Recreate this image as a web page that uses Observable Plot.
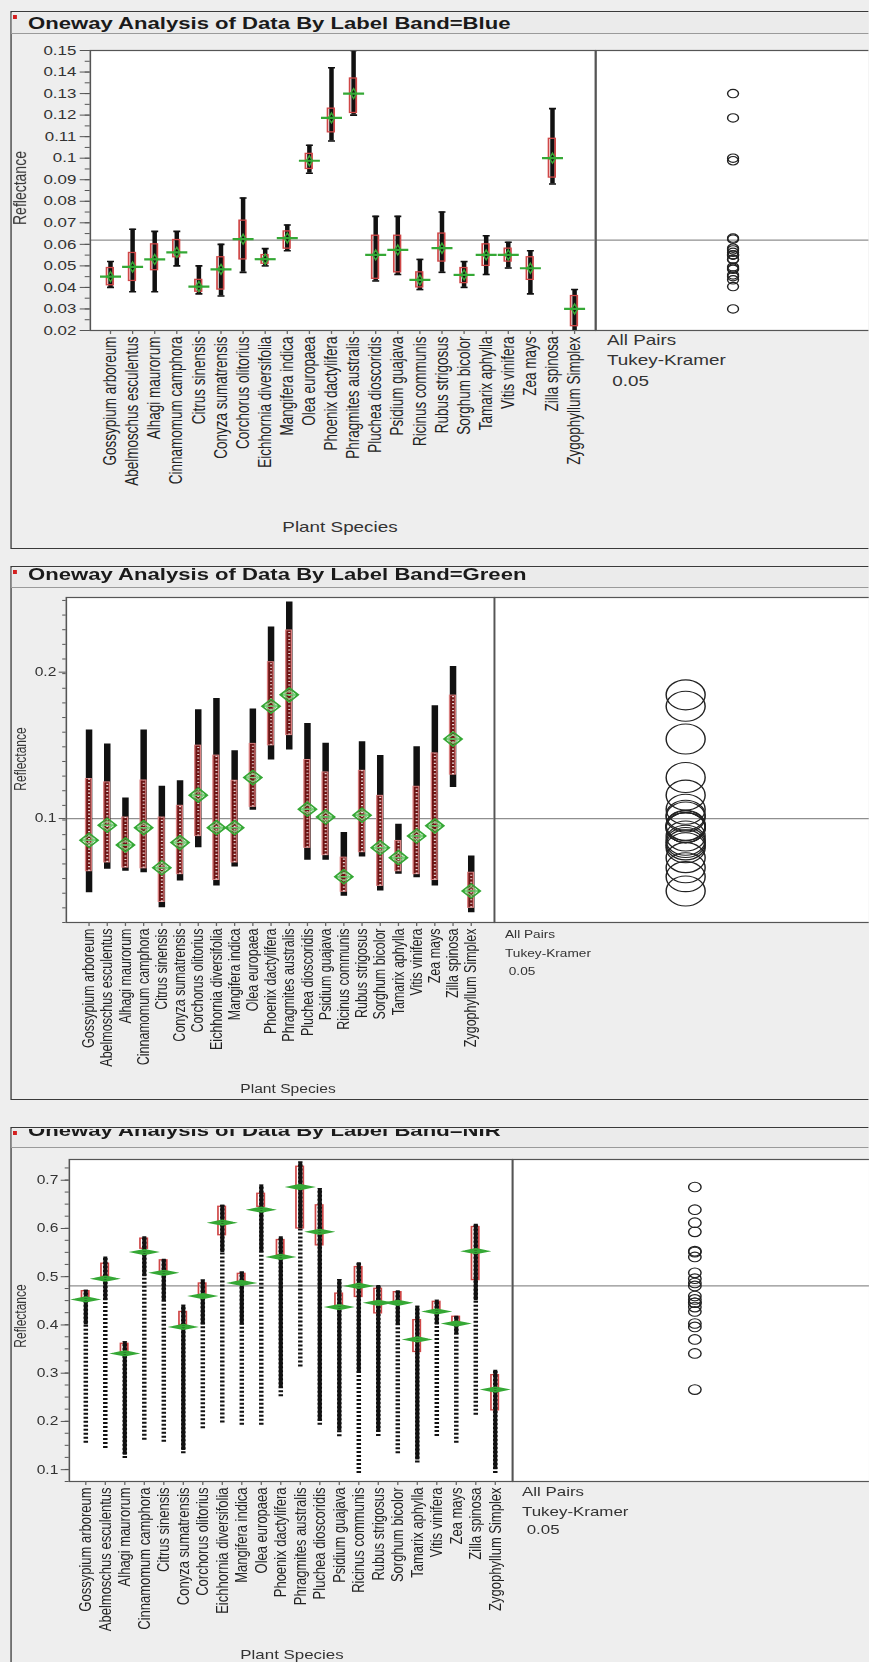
<!DOCTYPE html>
<html><head><meta charset="utf-8">
<script src="https://cdn.jsdelivr.net/npm/d3@7"></script>
<script src="https://cdn.jsdelivr.net/npm/@observablehq/plot@0.6"></script>
<style>
html,body{margin:0;padding:0;overflow:hidden;background:#eeeeee;}
#page{position:relative;width:668.46px;height:1662px;transform:scaleX(1.3);transform-origin:0 0;overflow:hidden;font-family:"Liberation Sans",Arial,sans-serif;color:#222;}
</style></head>
<body><div id="page"></div>
<script>
// ---------------- data ----------------
const species = ["Gossypium arboreum","Abelmoschus esculentus","Alhagi maurorum","Cinnamomum camphora","Citrus sinensis","Conyza sumatrensis","Corchorus olitorius","Eichhornia diversifolia","Mangifera indica","Olea europaea","Phoenix dactylifera","Phragmites australis","Pluchea dioscoridis","Psidium guajava","Ricinus communis","Rubus strigosus","Sorghum bicolor","Tamarix aphylla","Vitis vinifera","Zea mays","Zilla spinosa","Zygophyllum Simplex"];

const blueMax  = [0.052,0.067,0.066,0.066,0.050,0.060,0.0815,0.058,0.069,0.106,0.142,0.150,0.073,0.073,0.053,0.075,0.052,0.064,0.061,0.057,0.123,0.039];
const blueQ3   = [0.049,0.056,0.060,0.062,0.0435,0.054,0.071,0.055,0.066,0.102,0.123,0.137,0.064,0.064,0.047,0.065,0.049,0.060,0.058,0.054,0.109,0.036];
const blueQ1   = [0.041,0.043,0.048,0.054,0.038,0.039,0.053,0.051,0.058,0.095,0.112,0.121,0.044,0.047,0.040,0.052,0.042,0.050,0.052,0.0435,0.091,0.022];
const blueMin  = [0.040,0.038,0.038,0.050,0.037,0.036,0.047,0.050,0.057,0.093,0.108,0.120,0.043,0.046,0.039,0.047,0.040,0.046,0.049,0.037,0.088,0.019];
const blueMean = [0.045,0.0495,0.053,0.0563,0.0404,0.0484,0.0624,0.0531,0.0629,0.0988,0.1187,0.130,0.0551,0.0574,0.0435,0.0582,0.0458,0.0551,0.0551,0.0489,0.100,0.030];
const blueGrand = 0.062;
const blueTicks = [0.02,0.03,0.04,0.05,0.06,0.07,0.08,0.09,0.1,0.11,0.12,0.13,0.14,0.15];

const greenMax  = [0.1605,0.151,0.114,0.1605,0.122,0.1258,0.1744,0.182,0.1463,0.1749,0.2308,0.248,0.165,0.1514,0.0904,0.1525,0.143,0.0961,0.149,0.177,0.2039,0.0744];
const greenQ3   = [0.127,0.1247,0.1007,0.126,0.1007,0.1087,0.1498,0.143,0.1258,0.151,0.2068,0.2285,0.14,0.1315,0.0733,0.1326,0.1155,0.0847,0.1217,0.1445,0.184,0.063];
const greenQ1   = [0.064,0.070,0.0665,0.066,0.043,0.062,0.088,0.058,0.070,0.108,0.150,0.157,0.080,0.075,0.050,0.077,0.054,0.064,0.062,0.058,0.130,0.039];
const greenMin  = [0.0493,0.0653,0.064,0.063,0.039,0.0573,0.080,0.0539,0.0669,0.1057,0.14,0.1468,0.0715,0.0715,0.047,0.0737,0.0505,0.0619,0.0596,0.0539,0.1212,0.0356];
const greenMean = [0.0852,0.0954,0.082,0.0938,0.0664,0.0836,0.116,0.0938,0.0938,0.128,0.1767,0.1845,0.1064,0.1011,0.0603,0.1023,0.0801,0.0733,0.0881,0.095,0.1543,0.0505];
const greenGrand = 0.1;
const greenTicks = [0.1,0.2];

const nirMax   = [0.472,0.541,0.365,0.583,0.536,0.441,0.493,0.648,0.51,0.69,0.583,0.738,0.683,0.494,0.529,0.482,0.471,0.439,0.451,0.418,0.609,0.306];
const nirQ3    = [0.470,0.527,0.361,0.579,0.534,0.427,0.486,0.645,0.506,0.672,0.576,0.728,0.648,0.465,0.52,0.475,0.468,0.41,0.448,0.417,0.603,0.296];
const nirQ1    = [0.451,0.50,0.341,0.558,0.51,0.40,0.462,0.586,0.486,0.645,0.545,0.60,0.565,0.437,0.458,0.424,0.444,0.344,0.427,0.401,0.493,0.223];
const nirMin   = [0.155,0.144,0.123,0.161,0.157,0.133,0.185,0.197,0.192,0.192,0.251,0.313,0.192,0.168,0.092,0.169,0.133,0.114,0.169,0.155,0.213,0.092];
const nirMean  = [0.453,0.496,0.341,0.551,0.508,0.396,0.46,0.612,0.487,0.639,0.541,0.686,0.593,0.437,0.481,0.446,0.446,0.37,0.428,0.403,0.553,0.266];
const nirDense = [0.40,0.45,0.13,0.50,0.45,0.14,0.40,0.55,0.40,0.55,0.27,0.60,0.20,0.18,0.30,0.18,0.40,0.12,0.40,0.38,0.45,0.10];
const nirGrand = 0.481;
const nirTicks = [0.1,0.2,0.3,0.4,0.5,0.6,0.7];

const testLines = ["All Pairs","Tukey-Kramer"," 0.05"];
const xTitle = "Plant Species";
const yTitle = "Reflectance";

// ---------------- helpers ----------------
const S = 1.3;              // horizontal stretch of the whole picture
const U = v => v / S;       // full-width px -> unstretched px
const page = document.getElementById("page");
const fmt = d3.format("~g");

function div(x, y, w, h, css, parent) {
  const d = document.createElement("div");
  d.style.cssText = `position:absolute;left:${U(x)}px;top:${y}px;width:${U(w)}px;height:${h}px;${css || ""}`;
  (parent || page).appendChild(d);
  return d;
}
function label(str, x, base, size, css, anchor, parent, lh) {
  const d = document.createElement("div");
  d.textContent = str;
  const L = lh || 1;
  const top = base - (0.905 - (1.117 - L) / 2) * size;
  d.style.cssText = `position:absolute;left:${U(x)}px;top:${top}px;font-size:${size}px;line-height:${L};white-space:pre;${css || ""}`;
  if (anchor === "middle") d.style.transform = "translateX(-50%)";
  (parent || page).appendChild(d);
  return d;
}
function ylabel(str, x, y, size) {
  const d = document.createElement("div");
  d.textContent = str;
  d.style.cssText = `position:absolute;left:${U(x)}px;top:${y}px;font-size:${size}px;line-height:1;white-space:nowrap;transform:translate(-50%,-50%) rotate(-90deg);color:#333;`;
  page.appendChild(d);
}
const hline = hw => ({draw(ctx) { ctx.moveTo(-hw, 0); ctx.lineTo(hw, 0); }});
const diamond = (hw, hh) => ({draw(ctx) {
  ctx.moveTo(0, -hh); ctx.lineTo(hw, 0); ctx.lineTo(0, hh); ctx.lineTo(-hw, 0); ctx.closePath();
  ctx.moveTo(-hw, 0); ctx.lineTo(hw, 0);
}});
function rowsOf(mn, q1, q3, mx, mean, dense) {
  return species.map((s, i) => ({species: s, min: mn[i], q1: q1[i], q3: q3[i], max: mx[i], mean: mean[i], dense: dense ? dense[i] : null}));
}

const RED = "#cf4747", GREEN = "#35a835";

function panelMarks(kind, rows, bw) {
  if (kind === "blue") {
    return [
      Plot.ruleX(rows, {x: "species", y1: "min", y2: "max", stroke: "#111", strokeWidth: U(4.5), clip: true}),
      Plot.dot(rows, {x: "species", y: "max", symbol: hline(U(3.5)), r: 2, fill: "none", stroke: "#111", strokeWidth: 1.6, clip: true}),
      Plot.dot(rows, {x: "species", y: "min", symbol: hline(U(3.5)), r: 2, fill: "none", stroke: "#111", strokeWidth: 1.6, clip: true}),
      Plot.barY(rows, {x: "species", y1: "q1", y2: "q3", insetLeft: (bw - U(7.5)) / 2, insetRight: (bw - U(7.5)) / 2, fill: "none", stroke: RED, strokeWidth: 1.3, clip: true}),
      Plot.dot(rows, {x: "species", y: "mean", symbol: hline(U(10.5)), r: 2, fill: "none", stroke: GREEN, strokeWidth: 2.2, clip: true}),
      Plot.dot(rows, {x: "species", y: "mean", symbol: diamond(U(3), 5), r: 2, fill: "none", stroke: GREEN, strokeWidth: 1.2, clip: true})
    ];
  }
  if (kind === "green") {
    return [
      Plot.ruleX(rows, {x: "species", y1: "min", y2: "max", stroke: "#111", strokeWidth: U(6.5), clip: true}),
      Plot.barY(rows, {x: "species", y1: "q1", y2: "q3", insetLeft: (bw - U(7)) / 2, insetRight: (bw - U(7)) / 2, fill: "#6e1515", stroke: "#d98080", strokeWidth: 1, clip: true}),
      Plot.ruleX(rows, {x: "species", y1: "q1", y2: "q3", stroke: "white", strokeWidth: U(2), strokeDasharray: "1.2 2.3", strokeOpacity: 0.85, clip: true}),
      Plot.dot(rows, {x: "species", y: "mean", symbol: diamond(U(9), 7), r: 2, fill: "none", stroke: GREEN, strokeWidth: 1.5, clip: true}),
      Plot.dot(rows, {x: "species", y: "mean", symbol: diamond(U(6), 4.5), r: 2, fill: "none", stroke: "#7fcf7f", strokeWidth: 1, clip: true})
    ];
  }
  return [
    Plot.barY(rows, {x: "species", y1: "q1", y2: "q3", insetLeft: (bw - U(8)) / 2, insetRight: (bw - U(8)) / 2, fill: "none", stroke: RED, strokeWidth: 1.3, clip: true}),
    Plot.ruleX(rows, {x: "species", y1: "min", y2: "max", stroke: "#111", strokeWidth: U(4.5), strokeDasharray: "2 2", clip: true}),
    Plot.ruleX(rows, {x: "species", y1: "dense", y2: "max", stroke: "#111", strokeWidth: U(4), clip: true}),
    Plot.dot(rows, {x: "species", y: "mean", symbol: diamond(U(11), 2.2), r: 2, fill: "none", stroke: GREEN, strokeWidth: 1.8, clip: true})
  ];
}

function buildPanel(c) {
  // outer box
  div(10, c.top, 900, c.bottom - c.top, "border:1.6px solid #3a3a3a;box-sizing:border-box;background:#eeeeee;");
  // title bar
  const barTop = c.top + 1.6;
  const bar = div(11.6, barTop, 900, c.barBottom - barTop, "background:#ebebeb;border-bottom:1px solid #9a9a9a;box-sizing:border-box;" + (c.clipTitle ? "overflow:hidden;" : ""));
  label(c.title, 28 - 11.6, c.titleBase - barTop, 17, "font-weight:bold;color:#1a1a1a;", null, bar, 0.8);
  div(12.5 - 11.6, 2, 4, 4, "background:#d42020;", bar);

  const bw = U((c.sep - c.plotLeft) / species.length);
  const mt = 6;
  const svgLeft = 12;
  const mainH = c.labelsBottom - c.plotTop + mt;
  const mainHost = div(svgLeft, c.plotTop - mt, c.sep - svgLeft, mainH, "");
  const minor = d3.range(c.domain[0], c.domain[1] + 1e-9, c.minorStep);
  const main = Plot.plot({
    width: U(c.sep - svgLeft), height: mainH,
    marginLeft: U(c.plotLeft - svgLeft), marginRight: 0, marginTop: mt, marginBottom: c.labelsBottom - c.plotBottom,
    style: {background: "transparent", fontFamily: "Liberation Sans, Arial, sans-serif", overflow: "visible", color: "#222"},
    x: {type: "band", domain: species, padding: 0},
    y: {domain: c.domain},
    marks: [
      Plot.frame({fill: "white"}),
      Plot.ruleY([c.grand], {stroke: "#8f8f8f", strokeWidth: 1.2}),
      ...panelMarks(c.kind, c.rows, bw),
      Plot.frame({stroke: "#555", strokeWidth: 1.2}),
      Plot.axisY({ticks: minor, tickSize: U(c.tickSize * 0.5), tickFormat: () => "", label: null, stroke: "#555"}),
      Plot.axisY({ticks: c.ticks, tickFormat: fmt, tickSize: U(c.tickSize), tickPadding: U(c.tickPad), fontSize: c.tickFont, label: null, fill: "#333", stroke: "#555"}),
      Plot.axisX({tickRotate: -90, tickSize: 4, tickPadding: 2, fontSize: c.xFont, label: null, fill: "#222", stroke: "#666"})
    ]
  });
  mainHost.appendChild(main);

  // comparison circles
  const cmpHost = div(c.sep, c.plotTop, c.cmpRight - c.sep, c.plotBottom - c.plotTop, "");
  const cmp = Plot.plot({
    width: U(c.cmpRight - c.sep), height: c.plotBottom - c.plotTop,
    margin: 0,
    style: {background: "transparent", overflow: "visible"},
    y: {domain: c.domain, axis: null},
    marks: [
      Plot.frame({fill: "white"}),
      Plot.ruleY([c.grand], {stroke: "#8f8f8f", strokeWidth: 1.2}),
      Plot.dot(c.rows, {y: "mean", r: c.circleR, fill: "none", stroke: "#222", strokeWidth: 1.1, clip: true}),
      Plot.frame({stroke: "#555", strokeWidth: 1.2})
    ]
  });
  cmpHost.appendChild(cmp);

  ylabel(yTitle, c.ylab.x, c.ylab.y, c.ylab.size);
  label(xTitle, c.xt.x, c.xt.base, c.xt.size, "color:#333;", "middle");
  label(testLines[0], c.test.x, c.test.base[0], c.test.size, "color:#333;");
  label(testLines[1], c.test.x, c.test.base[1], c.test.size, "color:#333;");
  label(testLines[2], c.test.x, c.test.base[2], c.test.size, "color:#333;");
}

buildPanel({
  kind: "blue", title: "Oneway Analysis of Data By Label Band=Blue",
  top: 11, bottom: 549, barBottom: 34, titleBase: 30, clipTitle: false,
  plotLeft: 90, plotTop: 50, plotBottom: 330, sep: 595, cmpRight: 869, labelsBottom: 500,
  domain: [0.02, 0.15], ticks: blueTicks, minorStep: 0.005, tickFont: 13, tickSize: 10, tickPad: 4,
  grand: blueGrand, rows: rowsOf(blueMin, blueQ1, blueQ3, blueMax, blueMean), circleR: 4.2,
  ylab: {x: 20, y: 188, size: 14}, xFont: 13.5, xt: {x: 340, base: 532, size: 14.5},
  test: {x: 607, base: [345, 365, 386], size: 14.5}
});
buildPanel({
  kind: "green", title: "Oneway Analysis of Data By Label Band=Green",
  top: 566, bottom: 1100, barBottom: 588, titleBase: 581, clipTitle: false,
  plotLeft: 66, plotTop: 597, plotBottom: 922, sep: 494, cmpRight: 876, labelsBottom: 1075,
  domain: [0.029, 0.251], ticks: greenTicks, minorStep: 0.01, tickFont: 12, tickSize: 7, tickPad: 3,
  grand: greenGrand, rows: rowsOf(greenMin, greenQ1, greenQ3, greenMax, greenMean), circleR: 15,
  ylab: {x: 21, y: 759, size: 12}, xFont: 12.5, xt: {x: 288, base: 1093, size: 12},
  test: {x: 505, base: [938, 957, 975], size: 10.5}
});
buildPanel({
  kind: "nir", title: "Oneway Analysis of Data By Label Band=NIR",
  top: 1127, bottom: 1700, barBottom: 1148, titleBase: 1137, clipTitle: true,
  plotLeft: 69, plotTop: 1159, plotBottom: 1481, sep: 512, cmpRight: 876, labelsBottom: 1640,
  domain: [0.0755, 0.743], ticks: nirTicks, minorStep: 0.025, tickFont: 12, tickSize: 8, tickPad: 3,
  grand: nirGrand, rows: rowsOf(nirMin, nirQ1, nirQ3, nirMax, nirMean, nirDense), circleR: 4.8,
  ylab: {x: 21, y: 1316, size: 12}, xFont: 13, xt: {x: 292, base: 1659, size: 13},
  test: {x: 522, base: [1496, 1516, 1534], size: 13}
});
</script>
</body></html>
